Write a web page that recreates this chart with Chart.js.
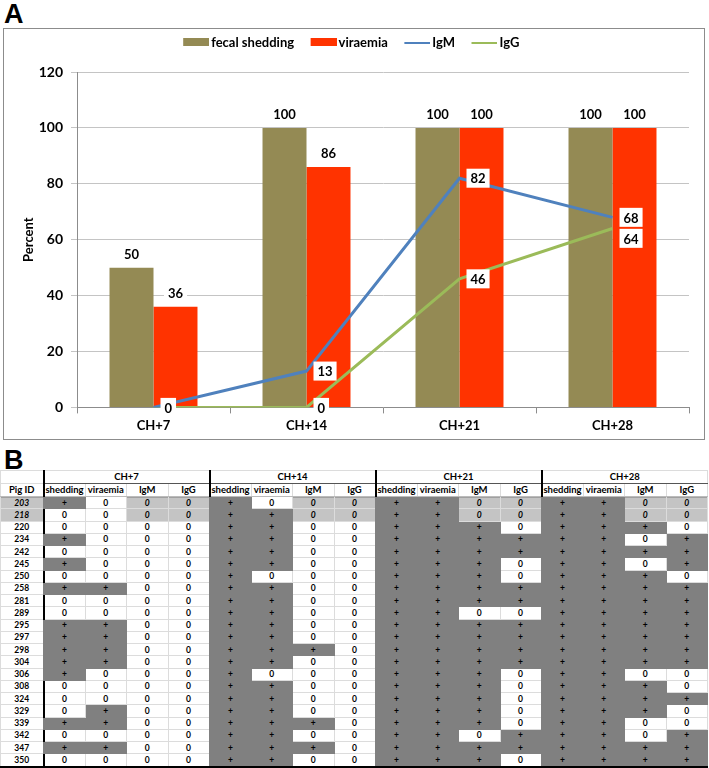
<!DOCTYPE html>
<html>
<head>
<meta charset="utf-8">
<script src="https://cdn.jsdelivr.net/npm/chart.js@4.4.0/dist/chart.umd.min.js"></script>
<style>
  body { margin: 0; width: 709px; height: 768px; background: #fff; position: relative; overflow: hidden; font-family: Lato, "Open Sans", sans-serif; }
  .panelLetter { position: absolute; left: 4px; font: bold 27px "Liberation Sans", Arial, sans-serif; line-height: 1; }
  #boxA { position: absolute; left: 3px; top: 28px; width: 700px; height: 410px; border: 1px solid #8c8c8c; }
  #tblB { position: absolute; left: 0; top: 470px; width: 707px; border-collapse: collapse; table-layout: fixed; font: bold 8.5px Lato, sans-serif; color: #000; }
  #tblB td, #tblB th { padding: 0; text-align: center; border: 1px solid #dcdcdc; white-space: nowrap; overflow: hidden; line-height: 10px; }
  #tblB thead th { height: 12px; font-size: 9.5px; }
  #tblB tbody td { height: 11.25px; }
  #tblB .g { border-left: 2px solid #000; }
  #tblB .sub { border-left: 1px solid #000; border-bottom: 1px solid #bbb; }
  #tblB .grp { border-bottom: 1px solid #555; }
  #tblB .pos { background: #808080; border-color: #808080; }
  #tblB .nt { background: repeating-linear-gradient(to bottom, #a0a0a0 0 1px, #e8e8e8 1px 2px); font-style: italic; }
  #tblB tbody tr:last-child td { border-bottom: 2px solid #000; }
</style>
</head>
<body>
<div class="panelLetter" style="top:1px">A</div>
<div id="boxA"><canvas id="chartA" width="700" height="410"></canvas></div>
<div class="panelLetter" style="top:447px">B</div>
<table id="tblB"></table>

<script>
// chart values (percent of pigs)
const timePoints = ['CH+7', 'CH+14', 'CH+21', 'CH+28'];
const fecalShedding = [50, 100, 100, 100];
const viraemia = [36, 86, 100, 100];
const igM = [0, 13, 82, 68];
const igG = [0, 0, 46, 64];
const yTicks = [0, 20, 40, 60, 80, 100, 120];

// table values: per pig, 4 groups of shedding / viraemia / IgM / IgG
// '+' positive, '0' negative, 'n' not tested (italic 0, hatched)
const pigIds = ['203', '218', '220', '234', '242', '245', '250', '258', '281', '289', '295',
  '297', '298', '304', '306', '308', '324', '329', '339', '342', '347', '350'];
const hatchedPigs = ['203', '218'];
const subHeads = ['shedding', 'viraemia', 'IgM', 'IgG'];
const pigResults = [
  '+0nn +0nn ++nn ++nn',
  '00nn ++nn ++nn ++nn',
  '0000 ++00 +++0 +++0',
  '+000 ++00 ++++ ++0+',
  '0000 ++00 ++++ ++++',
  '+000 ++00 +++0 ++0+',
  '0000 +000 +++0 +++0',
  '++00 ++00 ++++ ++++',
  '0000 ++00 ++++ ++++',
  '0000 ++00 ++00 ++++',
  '++00 ++00 ++++ ++++',
  '++00 ++00 ++++ ++++',
  '++00 +++0 ++++ ++++',
  '++00 ++00 ++++ ++++',
  '+000 +000 +++0 ++00',
  '0000 ++00 +++0 +++0',
  '0000 ++00 +++0 ++++',
  '0+00 ++00 +++0 +++0',
  '++00 +++0 +++0 ++00',
  '0000 ++00 ++0+ ++0+',
  '++00 +++0 ++++ ++++',
  '0000 ++00 +++0 ++++'
];

const colShed = '#948a54';
const colVir = '#ff3300';
const colIgM = '#4f81bd';
const colIgG = '#9bbb59';
const fontFam = 'Lato, "Open Sans", sans-serif';

// legend symbol: icon sits at the right end of a wider transparent image,
// so it ends up close to its text
function legendIcon(color, asLine) {
  const c = document.createElement('canvas');
  c.width = 40; c.height = 9;
  const g = c.getContext('2d');
  g.fillStyle = color;
  if (asLine) g.fillRect(14, 4, 26, 2);
  else g.fillRect(14, 0, 26, 8);
  return c;
}

// extra room under the legend
const legendGap = {
  id: 'legendGap',
  beforeInit(chart) {
    const fit = chart.legend.fit;
    chart.legend.fit = function () {
      fit.bind(chart.legend)();
      this.height += 13;
    };
  }
};

// value labels on bars and lines
const valueLabels = {
  id: 'valueLabels',
  afterDatasetsDraw(chart) {
    const ctx = chart.ctx;
    const placed = [];
    ctx.save();
    ctx.font = 'bold 13px ' + fontFam;
    ctx.textBaseline = 'middle';
    chart.data.datasets.forEach((ds, di) => {
      const meta = chart.getDatasetMeta(di);
      meta.data.forEach((el, i) => {
        const txt = String(ds.data[i]);
        const w = ctx.measureText(txt).width + 8;
        const h = 19;
        let bx, by;
        if (ds.type === 'bar') {
          bx = el.x - w / 2;
          by = el.y - 14 - h / 2;
        } else {
          bx = el.x + 7;
          by = el.y - h / 2;
          let skip = false;
          placed.forEach(p => {
            if (bx < p.x + p.w && bx + w > p.x && by < p.y + p.h && by + h > p.y) {
              if (p.t === txt && Math.abs(p.y - by) < 2) skip = true;
              else by = p.y + p.h + 2;
            }
          });
          if (skip) return;
          placed.push({ x: bx, y: by, w: w, h: h, t: txt });
        }
        ctx.fillStyle = '#fff';
        ctx.fillRect(bx, by, w, h);
        ctx.fillStyle = '#000';
        ctx.textAlign = 'center';
        ctx.fillText(txt, bx + w / 2, by + h / 2 + 1);
      });
    });
    ctx.restore();
  }
};

new Chart(document.getElementById('chartA').getContext('2d'), {
  data: {
    labels: timePoints,
    datasets: [
      { type: 'bar', label: 'fecal shedding', data: fecalShedding, backgroundColor: colShed, order: 2 },
      { type: 'bar', label: 'viraemia', data: viraemia, backgroundColor: colVir, order: 2 },
      { type: 'line', label: 'IgM', data: igM, borderColor: colIgM, borderWidth: 3, pointRadius: 0, tension: 0, order: 1 },
      { type: 'line', label: 'IgG', data: igG, borderColor: colIgG, borderWidth: 3, pointRadius: 0, tension: 0, order: 1 }
    ]
  },
  options: {
    responsive: false,
    animation: false,
    devicePixelRatio: 1,
    datasets: { bar: { barPercentage: 1, categoryPercentage: 0.575 } },
    layout: { padding: { top: 0, right: 15, left: 0, bottom: 0 } },
    plugins: {
      tooltip: { enabled: false },
      legend: {
        position: 'top',
        labels: {
          usePointStyle: true,
          pointStyleWidth: 31,
          padding: 7,
          color: '#000',
          font: { family: fontFam, size: 13, weight: 'bold' },
          generateLabels(chart) {
            return chart.data.datasets.map((ds, i) => ({
              text: ds.label,
              datasetIndex: i,
              pointStyle: legendIcon(ds.type === 'bar' ? ds.backgroundColor : ds.borderColor, ds.type === 'line'),
              fontColor: '#000',
              lineWidth: 0,
              hidden: false
            }));
          }
        }
      }
    },
    scales: {
      x: {
        grid: { display: true, offset: true, drawOnChartArea: false, color: '#8c8c8c', tickLength: 6 },
        border: { color: '#8c8c8c' },
        ticks: { color: '#000', font: { family: fontFam, size: 13, weight: 'bold' }, padding: 5 }
      },
      y: {
        min: 0, max: 120,
        afterBuildTicks(scale) { scale.ticks = yTicks.map(v => ({ value: v })); },
        afterFit(scale) { scale.width = 73; },
        grid: { color: '#c4c4c4', tickLength: 6 },
        border: { color: '#8c8c8c' },
        ticks: { color: '#000', font: { family: fontFam, size: 14, weight: 'bold' }, padding: 8 },
        title: { display: true, text: 'Percent', color: '#000', font: { family: fontFam, size: 13, weight: 'bold' }, padding: { top: 17, bottom: 4 } }
      }
    }
  },
  plugins: [legendGap, valueLabels]
});

// table B
const tbl = document.getElementById('tblB');
let html = '<colgroup><col style="width:43px">';
for (let i = 0; i < 16; i++) html += '<col style="width:41.5px">';
html += '</colgroup><thead><tr><th style="border-bottom:none"></th>';
timePoints.forEach(tp => { html += '<th colspan="4" class="g grp">' + tp + '</th>'; });
html += '</tr><tr><th style="border-bottom:1px solid #bbb">Pig ID</th>';
timePoints.forEach(() => {
  subHeads.forEach((s, k) => { html += '<th class="' + (k === 0 ? 'g' : 'sub') + '" style="border-bottom:1px solid #bbb">' + s + '</th>'; });
});
html += '</tr></thead><tbody>';
pigIds.forEach((id, r) => {
  const hatched = hatchedPigs.includes(id);
  html += '<tr><td class="' + (hatched ? 'nt' : '') + '">' + id + '</td>';
  const cells = pigResults[r].replace(/ /g, '');
  for (let c = 0; c < 16; c++) {
    const v = cells[c];
    let cls = c % 4 === 0 ? 'g ' : '';
    let txt = v;
    if (v === '+') cls += 'pos';
    else if (v === 'n') { cls += 'nt'; txt = '0'; }
    html += '<td class="' + cls + '">' + txt + '</td>';
  }
  html += '</tr>';
});
html += '</tbody>';
tbl.innerHTML = html;
</script>
</body>
</html>
